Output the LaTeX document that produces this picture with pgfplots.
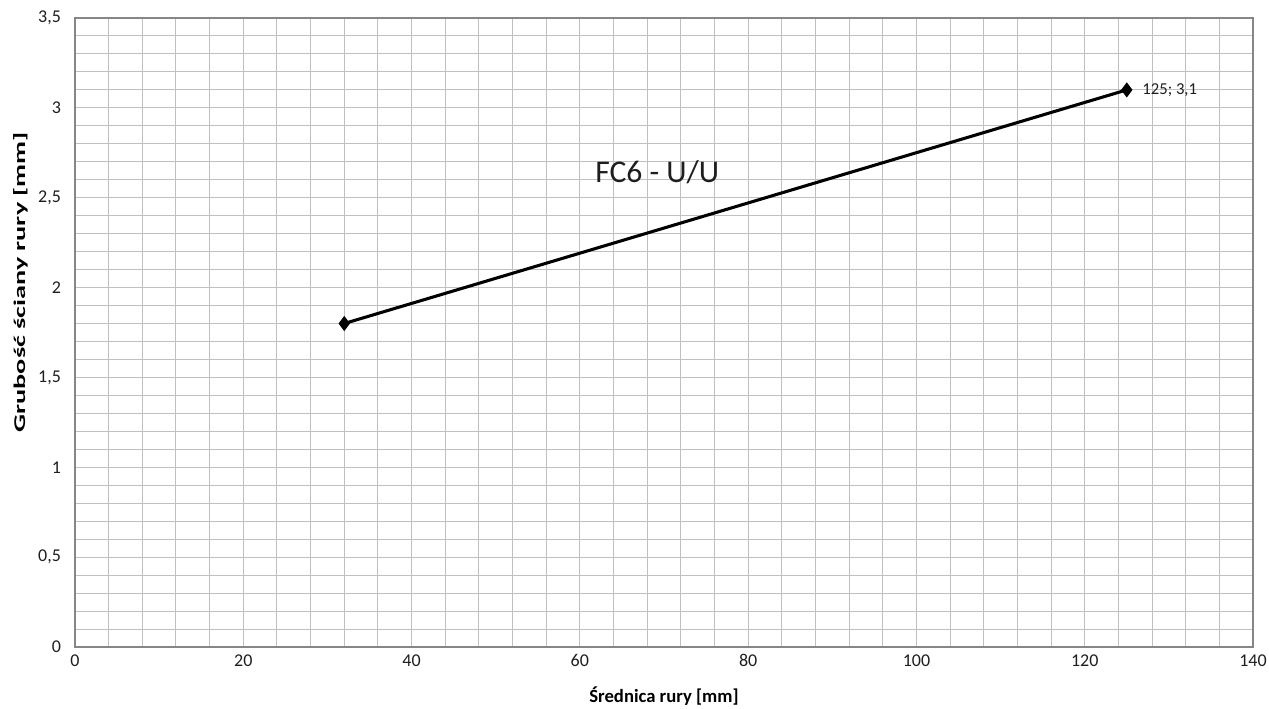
\documentclass[border=0pt]{standalone}
\usepackage{pgfplots}
\pgfplotsset{compat=1.18}
\usepackage{fontspec}
\setmainfont{Carlito}
\usetikzlibrary{calc}
\definecolor{gridc}{RGB}{192,192,192}
\definecolor{axc}{RGB}{134,134,134}
\definecolor{txt}{RGB}{30,30,30}
\begin{document}
\begin{tikzpicture}
\begin{axis}[
  name=ax,
  scale only axis,
  width=883.5pt, height=471.75pt,
  xmin=0, xmax=140, ymin=0, ymax=3.5,
  xtick={0,20,...,140},
  ytick={0,0.5,...,3.5},
  minor x tick num=4,
  minor y tick num=4,
  grid=both,
  major grid style={gridc, line width=0.75pt},
  minor grid style={gridc, line width=0.75pt},
  axis line style={axc, line width=1pt},
  major tick length=0pt, minor tick length=0pt,
  tick style={draw=none},
  /pgf/number format/assume math mode=true,
  /pgf/number format/use comma,
  /pgf/number format/1000 sep={},
  ticklabel style={font=\fontsize{13.5}{16}\selectfont, text=txt},
  yticklabel style={xshift=-7pt},
  xticklabel style={yshift=-2pt},
  xlabel={\textbf{Średnica rury [mm]}},
  ylabel={\scalebox{1.72}[1]{\fontsize{12.3}{14}\selectfont\textbf{Grubość ściany rury [mm]}}},
  label style={font=\fontsize{14}{16}\selectfont, text=black},
  xlabel style={yshift=-8.5pt},
  ylabel style={at={(ticklabel cs:0.58)}, yshift=1pt},
  clip=false,
]
\addplot[black, line width=2.3pt, mark=diamond*, mark size=3.8pt, mark options={solid}]
  coordinates {(32,1.8) (125,3.1)};
\node[anchor=west, font=\fontsize{12.5}{14}\selectfont, text=txt] at (axis cs:126.3,3.1) {125; 3,1};
\node[font=\fontsize{23.7}{28}\selectfont, text=txt] at (axis cs:69.2,2.64) {FC6 - U/U};
\end{axis}
\pgfresetboundingbox
\path[use as bounding box] ($(ax.south west)+(-56.25pt,-45.75pt)$) rectangle ($(ax.north east)+(12pt,13.5pt)$);
\end{tikzpicture}
\end{document}
